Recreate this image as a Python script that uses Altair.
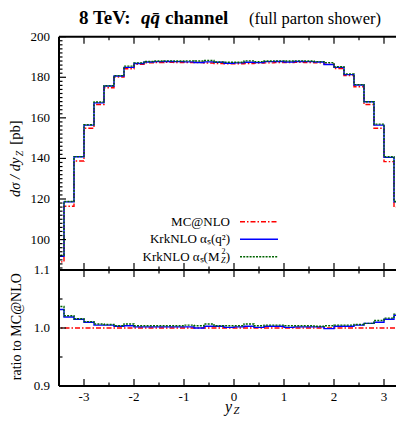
import altair as alt
import pandas as pd

# ---------------- data ----------------
edges = [-3.6, -3.4, -3.2, -3.0, -2.8, -2.6, -2.4, -2.2, -2.0, -1.8, -1.6, -1.4,
         -1.2, -1.0, -0.8, -0.6, -0.4, -0.2, 0.0, 0.2, 0.4, 0.6, 0.8, 1.0,
         1.2, 1.4, 1.6, 1.8, 2.0, 2.2, 2.4, 2.6, 2.8, 3.0, 3.2, 3.4, 3.6]

mc_top = [89.0, 116.4, 138.7, 154.9, 166.6, 174.8, 180.1, 184.2, 186.4, 187.1, 187.3, 187.4,
          187.3, 187.2, 187.3, 187.0, 186.8, 186.7, 186.7, 186.8, 187.0, 187.1, 187.2, 187.3,
          187.4, 187.3, 187.1, 186.5, 184.3, 180.8, 175.3, 166.6, 154.9, 138.4, 116.0, 89.8]
krk_q_top = [91.8, 118.6, 140.8, 156.4, 167.4, 175.7, 180.6, 184.9, 186.8, 187.5, 187.7, 187.8,
             187.7, 187.6, 187.3, 187.6, 187.4, 186.9, 187.1, 187.4, 187.2, 187.7, 187.8, 187.5,
             187.8, 187.7, 187.5, 186.3, 184.9, 181.3, 176.2, 167.9, 156.4, 140.5, 118.6, 92.3]
krk_mz_top = [92.3, 118.8, 140.9, 156.6, 167.8, 175.8, 180.8, 185.5, 187.1, 187.8, 188.0, 188.1,
              188.0, 188.1, 188.0, 188.3, 187.5, 187.4, 187.4, 188.1, 187.7, 188.0, 188.1, 188.0,
              188.1, 188.0, 187.7, 187.2, 185.2, 181.7, 176.4, 167.9, 156.9, 140.8, 118.8, 92.9]

mc_ratio = [1.0, 1.0, 1.0, 1.0, 1.0, 1.0, 1.0, 1.0, 1.0, 1.0, 1.0, 1.0,
            1.0, 1.0, 1.0, 1.0, 1.0, 1.0, 1.0, 1.0, 1.0, 1.0, 1.0, 1.0,
            1.0, 1.0, 1.0, 1.0, 1.0, 1.0, 1.0, 1.0, 1.0, 1.0, 1.0, 1.0]
krk_q_ratio = [1.032, 1.019, 1.015, 1.010, 1.005, 1.005, 1.003, 1.004, 1.002, 1.002, 1.002, 1.002,
               1.002, 1.002, 1.000, 1.003, 1.003, 1.001, 1.002, 1.003, 1.001, 1.003, 1.003, 1.001,
               1.002, 1.002, 1.002, 0.999, 1.003, 1.003, 1.005, 1.008, 1.010, 1.015, 1.022, 1.028]
krk_mz_ratio = [1.037, 1.021, 1.016, 1.011, 1.007, 1.006, 1.004, 1.007, 1.004, 1.004, 1.004, 1.004,
                1.004, 1.005, 1.004, 1.007, 1.004, 1.004, 1.004, 1.007, 1.004, 1.005, 1.005, 1.004,
                1.004, 1.004, 1.003, 1.004, 1.005, 1.005, 1.006, 1.008, 1.013, 1.017, 1.024, 1.034]

x_major = [-3, -2, -1, 0, 1, 2, 3]
x_labels = ["-3", "-2", "-1", "0", "1", "2", "3"]
x_minor = [-2.5, -1.5, -0.5, 0.5, 1.5, 2.5]
top_major = [100, 120, 140, 160, 180, 200]
top_minor = [v for v in range(86, 200, 2) if v % 20 != 0]
bot_major = [0.9, 1.0, 1.1]
bot_labels = ["0.9", "1.0", "1.1"]
bot_minor = [0.95, 1.05]

series_names = ["MC@NLO", "KrkNLO \u03b1\u209b(q\u00b2)", "KrkNLO \u03b1\u209b(M"]

# ---------------- layout ----------------
F = "Liberation Serif"
W, H, HT = 337, 349.3, 233.3          # visible plot width (x from -3.5 to 3.24)
xs = alt.Scale(domain=[-3.5, 3.24], nice=False, zero=False)
ys_top = alt.Scale(domain=[85, 200], range=[HT, 0], nice=False, zero=False)
ys_bot = alt.Scale(domain=[0.9, 1.1], range=[H, HT], nice=False, zero=False)
one = pd.DataFrame({"a": [0]})

RED, BLUE, GREEN = "#ff0000", "#0000ff", "#006400"
DASH_RED, DASH_GREEN = [5, 2, 1.5, 2], [2, 1.2]


def steps(vals, yscale, color, dash):
    rows = [{"x": edges[i], "v": vals[i]} for i in range(len(vals))]
    rows.append({"x": edges[-1], "v": vals[-1]})
    kw = dict(interpolate="step-after", clip=True, color=color, strokeWidth=1.4)
    if dash:
        kw["strokeDash"] = dash
    return alt.Chart(pd.DataFrame(rows)).mark_line(**kw).encode(
        x=alt.X("x:Q", scale=xs, axis=None),
        y=alt.Y("v:Q", scale=yscale, axis=None),
    )


def yticks(vals, yscale, x1, x2):
    return alt.Chart(pd.DataFrame({"v": vals})).mark_rule(color="black", strokeWidth=1.2).encode(
        y=alt.Y("v:Q", scale=yscale, axis=None), x=alt.value(x1), x2=alt.value(x2))


def xticks(vals, y1, y2):
    return alt.Chart(pd.DataFrame({"v": vals})).mark_rule(color="black", strokeWidth=1.2).encode(
        x=alt.X("v:Q", scale=xs, axis=None), y=alt.value(y1), y2=alt.value(y2))


def txt(t, x, y, size=13, align="left", baseline="alphabetic", style="normal",
        weight="normal", angle=0):
    return alt.Chart(one).mark_text(
        text=t, font=F, fontSize=size, align=align, baseline=baseline,
        fontStyle=style, fontWeight=weight, angle=angle, color="black"
    ).encode(x=alt.value(x), y=alt.value(y))


def hline(y, x1=0, x2=W, w=2.0):
    return alt.Chart(one).mark_rule(color="black", strokeWidth=w).encode(
        x=alt.value(x1), x2=alt.value(x2), y=alt.value(y))


layers = []
# data
layers += [steps(mc_top, ys_top, RED, DASH_RED),
           steps(krk_q_top, ys_top, BLUE, None),
           steps(krk_mz_top, ys_top, GREEN, DASH_GREEN),
           steps(mc_ratio, ys_bot, RED, DASH_RED),
           steps(krk_q_ratio, ys_bot, BLUE, None),
           steps(krk_mz_ratio, ys_bot, GREEN, DASH_GREEN)]

# frame
layers += [hline(0), hline(HT), hline(H),
           alt.Chart(one).mark_rule(color="black", strokeWidth=2.0).encode(
               x=alt.value(0), y=alt.value(0), y2=alt.value(H))]

# ticks
MJ, MN = 7, 3.5
layers += [yticks(top_major, ys_top, 0, MJ), yticks(top_minor, ys_top, 0, MN),
           yticks(bot_major, ys_bot, 0, MJ), yticks(bot_minor, ys_bot, 0, MN),
           xticks(x_major, 0, MJ), xticks(x_minor, 0, MN),
           xticks(x_major, HT - MJ, HT + MJ), xticks(x_minor, HT - MN, HT + MN),
           xticks(x_major, H - MJ, H), xticks(x_minor, H - MN, H)]

# tick labels
layers.append(alt.Chart(pd.DataFrame({"v": top_major, "t": [str(v) for v in top_major]})).mark_text(
    font=F, fontSize=13, align="right", baseline="middle", color="black").encode(
    y=alt.Y("v:Q", scale=ys_top, axis=None), x=alt.value(-9), text="t:N"))
layers.append(alt.Chart(pd.DataFrame({"v": bot_major, "t": bot_labels})).mark_text(
    font=F, fontSize=13, align="right", baseline="middle", color="black").encode(
    y=alt.Y("v:Q", scale=ys_bot, axis=None), x=alt.value(-9), text="t:N"))
layers.append(alt.Chart(pd.DataFrame({"v": x_major, "t": x_labels})).mark_text(
    font=F, fontSize=13, align="center", baseline="middle", color="black").encode(
    x=alt.X("v:Q", scale=xs, axis=None), y=alt.value(H + 11), text="t:N"))

# title
TY = -12.5
layers += [txt("8 TeV:", 20, TY, size=19, weight="bold"),
           txt("qq\u0304", 82, TY, size=19, weight="bold", style="italic"),
           txt("channel", 106, TY, size=19, weight="bold"),
           txt("(full parton shower)", 190, TY, size=16.5)]

# axis titles
layers += [txt("d\u03c3 / dy", -39.5, 160.3, size=14.5, style="italic", angle=270),
           txt("Z", -36.5, 119.5, size=10, style="italic", angle=270),
           txt("[pb]", -39.5, 108, size=14.5, angle=270),
           txt("ratio to MC@NLO", -38.5, 290, size=14, align="center", angle=270),
           txt("y", 166, H + 26, size=16, style="italic"),
           txt("Z", 174.5, H + 27.5, size=10.5, style="italic")]

# legend
LX, LS1, LS2 = 171, 181, 219
rows_y = [185, 202.6, 220]
layers += [txt(series_names[0], LX, rows_y[0], baseline="middle", align="right"),
           txt(series_names[1], LX, rows_y[1], baseline="middle", align="right"),
           txt(")", LX, rows_y[2], baseline="middle", align="right"),
           txt("2", LX - 4.5, rows_y[2] - 5, size=8, baseline="middle", align="right"),
           txt("Z", LX - 4.5, rows_y[2] + 4, size=8, style="italic", baseline="middle", align="right"),
           txt(series_names[2], LX - 10.5, rows_y[2], baseline="middle", align="right")]
for yy, col, dash in zip(rows_y, [RED, BLUE, GREEN], [DASH_RED, None, DASH_GREEN]):
    kw = dict(color=col, strokeWidth=1.4)
    if dash:
        kw["strokeDash"] = dash
    layers.append(alt.Chart(one).mark_rule(**kw).encode(
        x=alt.value(LS1), x2=alt.value(LS2), y=alt.value(yy)))

chart = alt.layer(*layers).resolve_scale(y="independent").properties(
    width=W, height=H,
    padding={"left": 51, "top": 28.7, "right": 0, "bottom": 30},
    autosize=alt.AutoSizeParams(type="none"),
).configure_view(stroke=None)

chart.save("out.html", embed_options={"renderer": "svg", "actions": False})
